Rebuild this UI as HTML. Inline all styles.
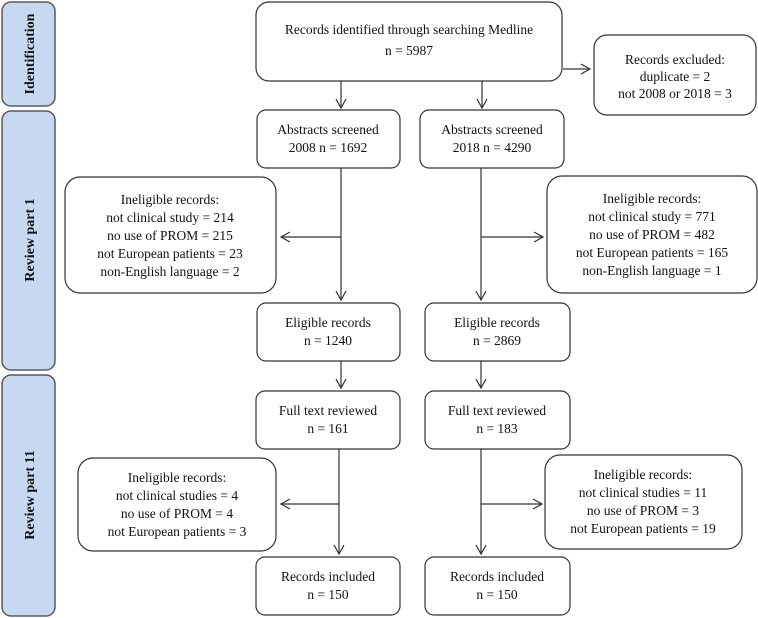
<!DOCTYPE html>
<html><head><meta charset="utf-8"><style>
html,body{margin:0;padding:0;background:#fff;}
svg{display:block;}
text{font-family:"Liberation Serif",serif;font-size:13.5px;fill:#111;}
.s{font-weight:bold;font-size:14px;}
</style></head><body>
<svg width="758" height="618" viewBox="0 0 758 618" xmlns="http://www.w3.org/2000/svg">
<g fill="#c6d9f0" stroke="#5a5a5a" stroke-width="1.5">
<rect x="2" y="2" width="53" height="104" rx="9"/>
<rect x="2" y="111" width="53" height="259" rx="9"/>
<rect x="2" y="375" width="53" height="241" rx="9"/>
</g>
<text class="s" transform="translate(34,54) rotate(-90)" text-anchor="middle">Identification</text>
<text class="s" transform="translate(34,240) rotate(-90)" text-anchor="middle">Review part 1</text>
<text class="s" transform="translate(34,495) rotate(-90)" text-anchor="middle">Review part 11</text>

<g fill="#fff" stroke="#333" stroke-width="1.2">
<rect x="256" y="2" width="306" height="79" rx="13"/>
<rect x="594" y="35" width="162" height="80" rx="13"/>
<rect x="257" y="110" width="143" height="58" rx="9"/>
<rect x="420" y="110" width="144" height="58" rx="9"/>
<rect x="65" y="177" width="211" height="116" rx="15"/>
<rect x="547" y="176" width="210" height="117" rx="15"/>
<rect x="257" y="303" width="143" height="58" rx="9"/>
<rect x="425" y="303" width="145" height="58" rx="9"/>
<rect x="256" y="391" width="144" height="58" rx="9"/>
<rect x="425" y="391" width="145" height="58" rx="9"/>
<rect x="78" y="458" width="198" height="93" rx="15"/>
<rect x="545" y="455" width="197" height="94" rx="15"/>
<rect x="256" y="557" width="144" height="58" rx="9"/>
<rect x="425" y="557" width="145" height="58" rx="9"/>
</g>

<g stroke="#333" stroke-width="1.2" fill="none">
<line x1="341" y1="81" x2="341" y2="108"/><polyline points="336,99 341,108 346,99"/>
<line x1="482" y1="81" x2="482" y2="108"/><polyline points="477,99 482,108 487,99"/>
<line x1="563" y1="69" x2="590" y2="69"/><polyline points="581,64 590,69 581,74"/>
<line x1="341" y1="168" x2="341" y2="300"/><polyline points="336,291 341,300 346,291"/>
<line x1="341" y1="237" x2="281" y2="237"/><polyline points="290,232 281,237 290,242"/>
<line x1="481" y1="168" x2="481" y2="300"/><polyline points="476,291 481,300 486,291"/>
<line x1="481" y1="237" x2="543" y2="237"/><polyline points="534,232 543,237 534,242"/>
<line x1="341" y1="361" x2="341" y2="388"/><polyline points="336,379 341,388 346,379"/>
<line x1="481" y1="361" x2="481" y2="388"/><polyline points="476,379 481,388 486,379"/>
<line x1="339" y1="449" x2="339" y2="554"/><polyline points="334,545 339,554 344,545"/>
<line x1="339" y1="504" x2="281" y2="504"/><polyline points="290,499 281,504 290,509"/>
<line x1="481" y1="449" x2="481" y2="554"/><polyline points="476,545 481,554 486,545"/>
<line x1="481" y1="504" x2="542" y2="504"/><polyline points="533,499 542,504 533,509"/>
</g>

<g text-anchor="middle">
<text x="409" y="34">Records identified through searching Medline</text>
<text x="409" y="55">n = 5987</text>
<text x="675" y="64">Records excluded:</text>
<text x="675" y="81">duplicate = 2</text>
<text x="675" y="98">not 2008 or 2018 = 3</text>
<text x="328" y="134">Abstracts screened</text>
<text x="328" y="152">2008 n = 1692</text>
<text x="492" y="134">Abstracts screened</text>
<text x="492" y="152">2018 n = 4290</text>
<text x="170" y="204">Ineligible  records:</text>
<text x="170" y="222">not clinical  study = 214</text>
<text x="170" y="240">no use of PROM = 215</text>
<text x="170" y="258">not European patients =  23</text>
<text x="170" y="276">non-English  language = 2</text>
<text x="652" y="203">Ineligible  records:</text>
<text x="652" y="221">not clinical  study = 771</text>
<text x="652" y="239">no use of PROM = 482</text>
<text x="652" y="257">not European patients =  165</text>
<text x="652" y="275">non-English  language = 1</text>
<text x="328" y="327">Eligible  records</text>
<text x="328" y="345">n = 1240</text>
<text x="497" y="327">Eligible  records</text>
<text x="497" y="345">n = 2869</text>
<text x="328" y="415">Full text reviewed</text>
<text x="328" y="433">n = 161</text>
<text x="497" y="415">Full text reviewed</text>
<text x="497" y="433">n = 183</text>
<text x="177" y="482">Ineligible  records:</text>
<text x="177" y="500">not clinical  studies = 4</text>
<text x="177" y="518">no use of PROM = 4</text>
<text x="177" y="536">not European patients = 3</text>
<text x="643" y="479">Ineligible  records:</text>
<text x="643" y="497">not clinical  studies = 11</text>
<text x="643" y="515">no use of PROM = 3</text>
<text x="643" y="533">not European patients = 19</text>
<text x="328" y="581">Records included</text>
<text x="328" y="599">n = 150</text>
<text x="497" y="581">Records included</text>
<text x="497" y="599">n = 150</text>
</g>
</svg>
</body></html>
